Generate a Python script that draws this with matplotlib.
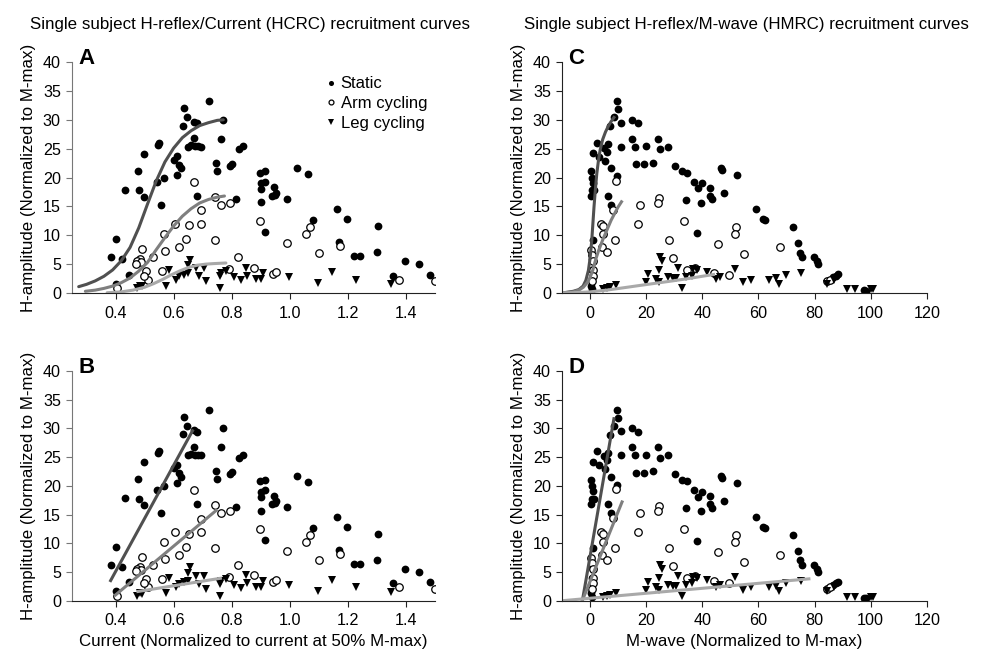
import matplotlib.pyplot as plt

plt.rcParams['font.family'] = ['Liberation Sans', 'DejaVu Sans']

# Static - H amplitude vs current (panels A, B)
static_cur = [0.723, 0.634, 0.646, 0.631, 0.669, 0.682, 0.771, 0.764, 0.669, 0.648,
              0.660, 0.672, 0.685, 0.695, 0.550, 0.546, 0.498, 0.611, 0.602, 0.619,
              0.625, 0.746, 0.749, 0.795, 0.800, 0.826, 0.838, 0.478, 0.481, 0.498,
              0.432, 0.567, 0.544, 0.613, 0.556, 0.682, 0.815, 0.400, 0.385, 0.423,
              0.473, 0.446, 0.402, 0.896, 0.916, 0.900, 0.916, 0.901, 0.947, 0.953,
              0.940, 0.950, 0.900, 0.991, 0.913, 1.026, 1.061, 1.081, 1.161, 1.198,
              1.303, 1.170, 1.221, 1.243, 1.301, 1.398, 1.446, 1.484, 1.354]
static_h_cur = [33.2, 32.0, 30.4, 29.0, 29.7, 29.4, 30.0, 26.7, 26.8, 25.3,
                25.6, 25.4, 25.4, 25.3, 26.0, 25.7, 24.1, 23.7, 23.1, 22.2,
                21.6, 22.6, 21.2, 22.0, 22.4, 24.9, 25.4, 21.2, 17.8, 16.7,
                17.9, 19.9, 19.2, 20.5, 15.3, 16.8, 16.3, 9.3, 6.2, 5.9,
                5.6, 3.2, 1.6, 20.8, 21.1, 19.0, 19.3, 18.0, 18.3, 17.4,
                16.8, 17.0, 15.7, 16.3, 10.5, 21.7, 20.6, 12.6, 14.6, 12.9,
                11.6, 8.9, 6.4, 6.4, 7.1, 5.5, 5.0, 3.2, 3.0]

arm_cur = [0.669, 0.743, 0.763, 0.794, 0.694, 0.604, 0.654, 0.694, 0.567, 0.570,
           0.619, 0.644, 0.742, 0.492, 0.483, 0.475, 0.489, 0.469, 0.504, 0.510,
           0.498, 0.561, 0.530, 0.406, 0.823, 0.792, 0.878, 0.896, 0.991, 0.942,
           0.953, 1.057, 1.069, 1.101, 1.173, 1.375, 1.499]
arm_h_cur = [19.3, 16.6, 15.2, 15.6, 14.3, 11.9, 11.7, 12.0, 10.3, 7.2,
             8.0, 9.3, 9.2, 7.6, 5.9, 5.5, 5.3, 5.1, 3.8, 2.3,
             3.0, 3.8, 6.2, 0.9, 6.2, 4.2, 4.4, 12.5, 8.7, 3.3,
             3.6, 10.3, 11.5, 7.0, 8.1, 2.3, 2.1]

leg_cur = [0.656, 0.648, 0.677, 0.705, 0.688, 0.711, 0.761, 0.763, 0.780, 0.761,
           0.807, 0.832, 0.852, 0.849, 0.884, 0.901, 0.907, 0.998, 0.584, 0.575,
           0.607, 0.619, 0.634, 0.648, 0.483, 0.492, 0.475, 1.096, 1.147, 1.227, 1.349]
leg_h_cur = [5.8, 4.9, 4.3, 4.3, 2.9, 2.0, 2.9, 3.5, 3.8, 0.9,
             2.8, 2.2, 3.0, 4.4, 2.4, 2.4, 3.5, 2.8, 3.9, 1.3,
             2.3, 2.9, 3.2, 3.5, 1.3, 1.2, 0.9, 1.7, 3.6, 2.3, 1.5]

# H amplitude vs M-wave (panels C, D)
static_mw = [9.6, 9.8, 8.5, 7.1, 11.2, 15.1, 17.1, 15.1, 15.9, 10.9,
             6.5, 4.9, 6.2, 2.6, 1.2, 3.3, 5.3, 7.5, 9.6, 0.2,
             0.6, 1.2, 1.5, 0.6, 0.2, 6.5, 7.6, 0.9, 0.6, 0.8,
             0.2, 0.6, 16.5, 19.1, 20.0, 22.4, 24.1, 24.9, 27.6, 30.4,
             32.9, 34.4, 34.1, 37.1, 38.6, 40.0, 39.5, 42.9, 42.6, 43.5,
             47.9, 46.5, 47.1, 38.2, 52.4, 59.2, 61.6, 62.4, 72.2, 74.0,
             74.7, 75.6, 79.7, 81.0, 81.3, 86.5, 87.5, 88.3, 97.7, 98.5]
static_h_mw = [33.2, 31.9, 30.4, 28.9, 29.5, 30.0, 29.4, 26.7, 25.3, 25.3,
               25.8, 25.2, 24.5, 26.0, 24.2, 23.6, 22.9, 21.6, 20.2, 21.1,
               19.9, 19.1, 17.8, 17.8, 16.8, 16.8, 15.2, 9.2, 5.9, 3.9,
               1.3, 0.7, 22.3, 22.3, 25.4, 22.6, 26.7, 24.9, 25.3, 22.0,
               21.1, 20.8, 16.1, 19.2, 18.1, 19.0, 15.6, 18.2, 16.8, 16.2,
               17.3, 21.7, 21.3, 10.4, 20.5, 14.5, 12.9, 12.6, 11.5, 8.7,
               7.0, 6.3, 6.3, 5.6, 5.0, 2.7, 3.0, 3.3, 0.5, 0.4]

arm_mw = [9.2, 8.2, 17.9, 24.7, 24.1, 17.1, 33.5, 3.9, 4.7, 4.7,
          4.1, 6.2, 8.8, 28.2, 29.4, 0.2, 0.6, 0.9, 1.2, 0.9,
          0.6, 34.4, 37.3, 44.2, 49.5, 45.5, 52.0, 51.5, 54.7, 67.8, 84.3, 85.5]
arm_h_mw = [19.4, 14.4, 15.2, 16.5, 15.6, 12.0, 12.4, 11.9, 11.6, 10.3,
            7.9, 7.1, 9.2, 9.1, 6.1, 7.5, 6.5, 5.6, 3.9, 3.0,
            2.1, 3.9, 4.3, 3.5, 3.1, 8.5, 11.4, 10.3, 6.8, 7.9, 2.1, 2.3]

leg_mw = [24.9, 25.6, 20.6, 20.0, 23.5, 24.4, 24.7, 27.6, 29.4, 30.6,
          31.2, 32.9, 34.1, 36.7, 38.2, 36.2, 41.8, 44.9, 46.3, 51.5,
          4.7, 5.9, 7.1, 9.4, 54.4, 57.3, 63.9, 66.4, 67.5, 70.0,
          75.3, 84.3, 86.9, 91.4, 94.3, 100.0, 100.7]
leg_h_mw = [6.3, 5.6, 3.3, 1.9, 2.4, 1.9, 3.9, 2.7, 2.6, 2.6,
            4.3, 0.9, 2.7, 4.2, 3.9, 3.0, 3.6, 2.4, 2.8, 4.2,
            0.7, 0.9, 1.0, 1.4, 1.9, 2.3, 2.3, 2.6, 1.6, 3.1,
            3.5, 1.6, 2.3, 0.7, 0.7, 0.7, 0.7]

# Fitted sigmoid curves (A)
fitA_static_x = [0.273, 0.30, 0.33, 0.36, 0.39, 0.42, 0.45, 0.48, 0.51, 0.54,
                 0.57, 0.60, 0.63, 0.66, 0.69, 0.72, 0.75, 0.771]
fitA_static_y = [1.1, 1.5, 2.1, 2.9, 4.0, 5.6, 7.9, 11.3, 15.4, 19.4,
                 22.7, 25.1, 26.9, 28.1, 29.0, 29.5, 29.9, 30.0]
fitA_arm_x = [0.296, 0.33, 0.36, 0.39, 0.42, 0.45, 0.48, 0.51, 0.54, 0.57,
              0.60, 0.63, 0.66, 0.69, 0.72, 0.75, 0.775]
fitA_arm_y = [0.3, 0.5, 0.8, 1.2, 1.8, 2.6, 3.8, 5.3, 7.5, 9.6,
              11.6, 13.3, 14.6, 15.6, 16.2, 16.6, 16.8]
fitA_leg_x = [0.371, 0.42, 0.46, 0.50, 0.53, 0.56, 0.59, 0.62, 0.65, 0.68, 0.71, 0.74, 0.78]
fitA_leg_y = [0.05, 0.2, 0.5, 1.0, 1.6, 2.3, 3.1, 3.8, 4.4, 4.8, 5.0, 5.1, 5.2]

# Linear fits (B)
fitB_static_x = [0.383, 0.665]
fitB_static_y = [3.5, 29.6]
fitB_arm_x = [0.40, 0.746]
fitB_arm_y = [1.0, 15.7]
fitB_leg_x = [0.477, 0.761]
fitB_leg_y = [1.6, 3.9]

# Sigmoid fits (C)
fitC_static_x = [-10, -6, -4, -2.5, -1.5, -0.6, 0.0, 0.6, 1.0, 1.4,
                 1.9, 2.4, 3.0, 3.6, 4.5, 5.5, 6.5, 7.5, 8.5]
fitC_static_y = [0.0, 0.3, 0.6, 1.2, 2.2, 3.9, 6.0, 9.1, 12.0, 14.9,
                 18.0, 20.7, 23.0, 24.8, 26.6, 27.9, 28.9, 29.7, 30.4]
fitC_arm_x = [-10, -6, -4, -2.4, -1, 0, 1, 2, 3, 4.5, 6, 7.5, 9, 10, 11.2]
fitC_arm_y = [0.0, 0.2, 0.5, 1.0, 1.8, 2.7, 4.0, 5.8, 7.3, 9.2, 10.9, 12.6, 14.0, 14.9, 15.8]
fitC_leg_x = [-10, -5.9, 0, 5.9, 11.8, 17.6, 23.5, 29.4, 35, 40, 44]
fitC_leg_y = [0.0, 0.05, 0.2, 0.5, 0.9, 1.3, 1.7, 2.1, 2.5, 2.9, 3.2]

# Linear fits (D)
fitD_static_x = [-2.7, 8.5]
fitD_static_y = [0.1, 31.7]
fitD_arm_x = [-2.7, 11.4]
fitD_arm_y = [0.1, 17.2]
fitD_leg_x = [-9.8, 78]
fitD_leg_y = [0.0, 3.8]

c_static = '#505050'
c_arm = '#7f7f7f'
c_leg = '#a9a9a9'

FS = 12.2
TICK_FS = 11.6

fig = plt.figure(figsize=(9.81, 6.51), dpi=100)
axA = fig.add_axes([0.0734, 0.5499, 0.370, 0.3548])
axB = fig.add_axes([0.0734, 0.0773, 0.370, 0.3527])
axC = fig.add_axes([0.5729, 0.5499, 0.3718, 0.3548])
axD = fig.add_axes([0.5729, 0.0773, 0.3718, 0.3527])


def scatter_sets(ax, sx, sy, ax_, ay, lx, ly):
    ax.plot(sx, sy, 'o', color='black', ms=5.6, mew=0, label='Static')
    ax.plot(ax_, ay, 'o', mfc='white', mec='black', ms=5.4, mew=0.9, label='Arm cycling')
    ax.plot(lx, ly, 'v', color='black', ms=6, mew=0, label='Leg cycling')


def style(ax, xlim, xticks, xticklabels, letter, left_col):
    ax.set_xlim(*xlim)
    ax.set_ylim(0, 40)
    ax.set_xticks(xticks)
    ax.set_xticklabels(xticklabels)
    ax.set_yticks(range(0, 41, 5))
    ax.spines['top'].set_visible(False)
    ax.spines['right'].set_visible(False)
    ax.spines['left'].set_color(left_col)
    ax.spines['bottom'].set_color('#222222')
    ax.tick_params(axis='y', length=4, width=0.8, colors=left_col, labelcolor='black',
                   labelsize=TICK_FS, pad=4)
    ax.tick_params(axis='x', length=4, width=0.8, colors='#222222', labelcolor='black',
                   labelsize=TICK_FS, pad=5)
    ax.set_ylabel('H-amplitude (Normalized to M-max)', fontsize=FS, labelpad=5)
    ax.text(0.017, 0.99, letter, transform=ax.transAxes, fontsize=16, fontweight='bold',
            va='baseline', ha='left')


cur_ticks = [0.4, 0.6, 0.8, 1.0, 1.2, 1.4]
cur_labels = ['0.4', '0.6', '0.8', '1.0', '1.2', '1.4']
mw_ticks = [0, 20, 40, 60, 80, 100, 120]
mw_labels = [str(t) for t in mw_ticks]

# A
scatter_sets(axA, static_cur, static_h_cur, arm_cur, arm_h_cur, leg_cur, leg_h_cur)
axA.plot(fitA_static_x, fitA_static_y, color=c_static, lw=2.2, solid_capstyle='round')
axA.plot(fitA_arm_x, fitA_arm_y, color=c_arm, lw=2.2, solid_capstyle='round')
axA.plot(fitA_leg_x, fitA_leg_y, color=c_leg, lw=2.2, solid_capstyle='round')
style(axA, (0.25, 1.5), cur_ticks, cur_labels, 'A', '#777777')
axA.legend(loc='upper left', bbox_to_anchor=(0.694, 0.938), frameon=False, fontsize=12,
           handletextpad=0.2, labelspacing=0.28, handlelength=0.8, borderpad=0,
           borderaxespad=0, markerscale=0.65)

# B
scatter_sets(axB, static_cur, static_h_cur, arm_cur, arm_h_cur, leg_cur, leg_h_cur)
axB.plot(fitB_static_x, fitB_static_y, color=c_static, lw=2.2)
axB.plot(fitB_arm_x, fitB_arm_y, color=c_arm, lw=2.2)
axB.plot(fitB_leg_x, fitB_leg_y, color=c_leg, lw=2.2)
style(axB, (0.25, 1.5), cur_ticks, cur_labels, 'B', '#777777')
axB.set_xlabel('Current (Normalized to current at 50% M-max)', fontsize=FS, labelpad=4)

# C
scatter_sets(axC, static_mw, static_h_mw, arm_mw, arm_h_mw, leg_mw, leg_h_mw)
axC.plot(fitC_static_x, fitC_static_y, color=c_static, lw=2.2)
axC.plot(fitC_arm_x, fitC_arm_y, color=c_arm, lw=2.2)
axC.plot(fitC_leg_x, fitC_leg_y, color=c_leg, lw=2.2)
style(axC, (-10, 120), mw_ticks, mw_labels, 'C', '#222222')

# D
scatter_sets(axD, static_mw, static_h_mw, arm_mw, arm_h_mw, leg_mw, leg_h_mw)
axD.plot(fitD_static_x, fitD_static_y, color=c_static, lw=2.2)
axD.plot(fitD_arm_x, fitD_arm_y, color=c_arm, lw=2.2)
axD.plot(fitD_leg_x, fitD_leg_y, color=c_leg, lw=2.2)
style(axD, (-10, 120), mw_ticks, mw_labels, 'D', '#222222')
axD.set_xlabel('M-wave (Normalized to M-max)', fontsize=FS, labelpad=4)

fig.text(250 / 981, 1 - 24 / 651, 'Single subject H-reflex/Current (HCRC) recruitment curves',
         ha='center', va='center', fontsize=FS)
fig.text(746.5 / 981, 1 - 24 / 651, 'Single subject H-reflex/M-wave (HMRC) recruitment curves',
         ha='center', va='center', fontsize=FS)

fig.savefig('out.png', dpi=100)
